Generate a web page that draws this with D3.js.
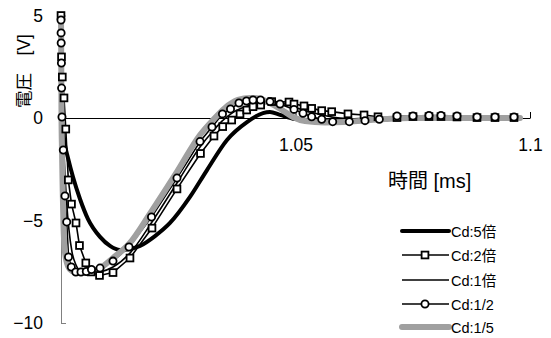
<!DOCTYPE html>
<html>
<head>
<meta charset="utf-8">
<script src="https://cdn.jsdelivr.net/npm/d3@7"></script>
<style>
  html, body { margin: 0; padding: 0; background: #fff; }
  svg { display: block; font-family: "Liberation Sans", Arial, "Noto Sans CJK JP", sans-serif; }
</style>
</head>
<body>
<svg id="chart" width="551" height="338"></svg>
<script>
// Time [ms] and voltage [V] samples for each damping setting
const tCd5 = [1.0, 1.00011, 1.00021, 1.00043, 1.00085, 1.00149, 1.00256, 1.00405, 1.00576, 1.00832,
  1.01045, 1.01258, 1.01471, 1.01684, 1.02004, 1.02324, 1.0275, 1.03113, 1.0354, 1.03966,
  1.04307, 1.04456, 1.0467, 1.04989, 1.05522, 1.06162, 1.07228, 1.09787];
const vCd5 = [5.0, 2.34, 0, -0.59, -1.32, -1.95, -2.88, -3.95, -4.93, -5.80,
  -6.24, -6.44, -6.39, -6.24, -5.76, -5.12, -3.85, -2.54, -1.07, -0.20,
  0.24, 0.29, 0.15, -0.05, -0.12, -0.10, -0.02, 0];

const tCd2 = [1.0, 1.00011, 1.00028, 1.00064, 1.00102, 1.00156, 1.00224, 1.0032, 1.00394, 1.00529,
  1.00644, 1.00821, 1.01109, 1.01471, 1.0194, 1.02473, 1.02974, 1.03262, 1.03448, 1.0364,
  1.03817, 1.0396, 1.04094, 1.04258, 1.04493, 1.04861, 1.04968, 1.05181, 1.05345, 1.05559,
  1.05772, 1.06119, 1.06461, 1.06759, 1.07164, 1.07505, 1.07846, 1.08102, 1.08443, 1.0887,
  1.09254, 1.09659];
const vCd2 = [5.0, 2.98, 2.0, 0.98, -0.54, -3.02, -4.20, -5.12, -6.22, -7.07,
  -7.51, -7.68, -7.54, -6.83, -5.37, -3.46, -1.73, -0.88, -0.42, -0.10,
  0.20, 0.39, 0.55, 0.63, 0.80, 0.78, 0.68, 0.59, 0.47, 0.36,
  0.31, 0.20, 0.15, 0.06, 0.02, 0.07, 0.07, 0.07, 0.05, 0.02,
  0.02, 0.02];

const tCd1 = [1.0, 1.00011, 1.00021, 1.00043, 1.00075, 1.00117, 1.0017, 1.00235, 1.0032, 1.00448,
  1.00618, 1.00832, 1.01109, 1.01471, 1.0194, 1.02473, 1.02964, 1.03241, 1.03433, 1.03646,
  1.03923, 1.04200, 1.04456, 1.04776, 1.05096, 1.05522, 1.05949, 1.06375, 1.06908, 1.07655,
  1.09787];
const vCd1 = [5.0, 2.83, 0.88, -0.59, -2.29, -4.00, -5.46, -6.54, -7.17, -7.51,
  -7.56, -7.51, -7.27, -6.59, -5.07, -3.17, -1.41, -0.63, -0.15, 0.24,
  0.54, 0.73, 0.78, 0.68, 0.44, 0.17, 0, -0.05, -0.05, 0,
  0];

const tCd1_2 = [1.0, 1.00002, 1.00004, 1.00009, 1.00013, 1.00021, 1.00049, 1.00085, 1.00122, 1.0016,
  1.0022, 1.00316, 1.00426, 1.00539, 1.0065, 1.00832, 1.01109, 1.0145, 1.0193, 1.02473,
  1.02964, 1.0322, 1.03443, 1.03614, 1.03795, 1.03955, 1.04094, 1.04254, 1.04456, 1.0467,
  1.04968, 1.0516, 1.05345, 1.05559, 1.05793, 1.06147, 1.06482, 1.06787, 1.07164, 1.07505,
  1.07846, 1.08102, 1.08443, 1.0887, 1.09254, 1.09659];
const vCd1_2 = [4.78, 4.15, 3.66, 2.68, 1.46, 0.05, -1.56, -3.80, -5.07, -6.78,
  -7.27, -7.51, -7.51, -7.49, -7.39, -7.32, -6.98, -6.29, -4.83, -2.93,
  -1.15, -0.44, 0.20, 0.44, 0.73, 0.83, 0.88, 0.88, 0.80, 0.68,
  0.42, 0.23, 0.06, -0.06, -0.18, -0.18, -0.13, -0.06, 0.10, 0.10,
  0.12, 0.12, 0.10, 0.05, 0.05, 0.05];

const tCd1_5 = [1.0, 1.00006, 1.00011, 1.00021, 1.00036, 1.00053, 1.00085, 1.00149, 1.00235, 1.00362,
  1.00618, 1.00832, 1.01109, 1.0145, 1.01919, 1.02473, 1.02964, 1.03241, 1.03497, 1.03774,
  1.0403, 1.04243, 1.04456, 1.04712, 1.04947, 1.05203, 1.05629, 1.06055, 1.06482, 1.06908,
  1.07441, 1.09787];
const vCd1_5 = [5.0, 2.34, 0, -1.56, -3.51, -5.22, -6.54, -7.22, -7.46, -7.56,
  -7.51, -7.32, -6.83, -6.15, -4.59, -2.63, -0.83, -0.10, 0.49, 0.88,
  0.98, 0.93, 0.73, 0.39, 0.05, -0.15, -0.22, -0.20, -0.12, -0.05,
  0, 0];

const seriesNames = ["Cd:5倍", "Cd:2倍", "Cd:1倍", "Cd:1/2", "Cd:1/5"];
const xTicks = [1.05, 1.1];
const xTickLabels = ["1.05", "1.1"];
const yTicks = [5, 0, -5, -10];
const yTickLabels = ["5", "0", "−5", "−10"];

const series = [
  { name: seriesNames[0], t: tCd5,   v: vCd5,   color: "#000", width: 4,   marker: null,     smooth: true },
  { name: seriesNames[1], t: tCd2,   v: vCd2,   color: "#000", width: 1.6, marker: "square", smooth: false },
  { name: seriesNames[2], t: tCd1,   v: vCd1,   color: "#000", width: 1.6, marker: null,     smooth: true },
  { name: seriesNames[3], t: tCd1_2, v: vCd1_2, color: "#000", width: 1.6, marker: "circle", smooth: false },
  { name: seriesNames[4], t: tCd1_5, v: vCd1_5, color: "#a0a0a0", width: 6, marker: null,  smooth: true }
];

const svg = d3.select("#chart");
const x = d3.scaleLinear().domain([1.0, 1.1]).range([61, 530]);
const y = d3.scaleLinear().domain([-10, 5]).range([323, 15.5]);

// Axes
const yAxis = d3.axisLeft(y).tickValues(yTicks)
  .tickFormat((d, i) => yTickLabels[i]).tickSizeInner(-5).tickSizeOuter(0).tickPadding(18);
const gy = svg.append("g").attr("transform", `translate(${x(1.0)},0)`).call(yAxis);
gy.select(".domain").attr("stroke", "#808080");
gy.selectAll(".tick line").attr("stroke", "#808080");
gy.selectAll(".tick text").attr("font-size", 17.5).attr("fill", "#000");

const xAxis = d3.axisBottom(x).tickValues(xTicks)
  .tickFormat((d, i) => xTickLabels[i]).tickSizeInner(-6).tickSizeOuter(0).tickPadding(21);
const gx = svg.append("g").attr("transform", `translate(0,${y(0)})`).call(xAxis);
gx.select(".domain").attr("stroke", "#000");
gx.selectAll(".tick line").attr("stroke", "#000");
gx.selectAll(".tick text").attr("font-size", 17.5).attr("fill", "#000");
gy.attr("font-family", null);
gx.attr("font-family", null);

// Axis titles
svg.append("text")
  .attr("transform", `translate(24,71) rotate(-90)`)
  .attr("text-anchor", "middle").attr("dominant-baseline", "central")
  .attr("font-size", 17.5).text("電圧　[V]");
svg.append("text")
  .attr("x", 388).attr("y", 188)
  .attr("font-size", 20).text("時間 [ms]");

// Curves
const lineSmooth = d3.line().x(d => x(d[0])).y(d => y(d[1])).curve(d3.curveMonotoneX);
const lineStraight = d3.line().x(d => x(d[0])).y(d => y(d[1]));
const lines = svg.append("g");
series.forEach(s => {
  const pts = s.t.map((t, i) => [t, s.v[i]]);
  lines.append("path")
    .attr("d", (s.smooth ? lineSmooth : lineStraight)(pts))
    .attr("fill", "none").attr("stroke", s.color)
    .attr("stroke-width", s.width).attr("stroke-linejoin", "round").attr("stroke-linecap", "round");
});

// Markers
function drawMarker(g, type, cx, cy) {
  if (type === "square") {
    g.append("rect").attr("x", cx - 3.4).attr("y", cy - 3.4).attr("width", 6.8).attr("height", 6.8)
      .attr("fill", "#fff").attr("stroke", "#000").attr("stroke-width", 1.8);
  } else if (type === "circle") {
    g.append("circle").attr("cx", cx).attr("cy", cy).attr("r", 3.6)
      .attr("fill", "#fff").attr("stroke", "#000").attr("stroke-width", 1.8);
  }
}
const markers = svg.append("g");
series.filter(s => s.marker).forEach(s => {
  s.t.forEach((t, i) => drawMarker(markers, s.marker, x(t), y(s.v[i])));
});

// Legend
const legend = svg.append("g");
const rowY = [231, 255, 280, 304, 327];
series.forEach((s, i) => {
  const ry = rowY[i];
  legend.append("line").attr("x1", 402).attr("x2", 449).attr("y1", ry).attr("y2", ry)
    .attr("stroke", s.color).attr("stroke-width", s.width)
    .attr("stroke-linecap", s.width > 3 ? "round" : "butt");
  if (s.marker) drawMarker(legend, s.marker, 425, ry);
  legend.append("text").attr("x", 451).attr("y", ry + 5.5)
    .attr("font-size", 14.5).text(s.name);
});
</script>
</body>
</html>
